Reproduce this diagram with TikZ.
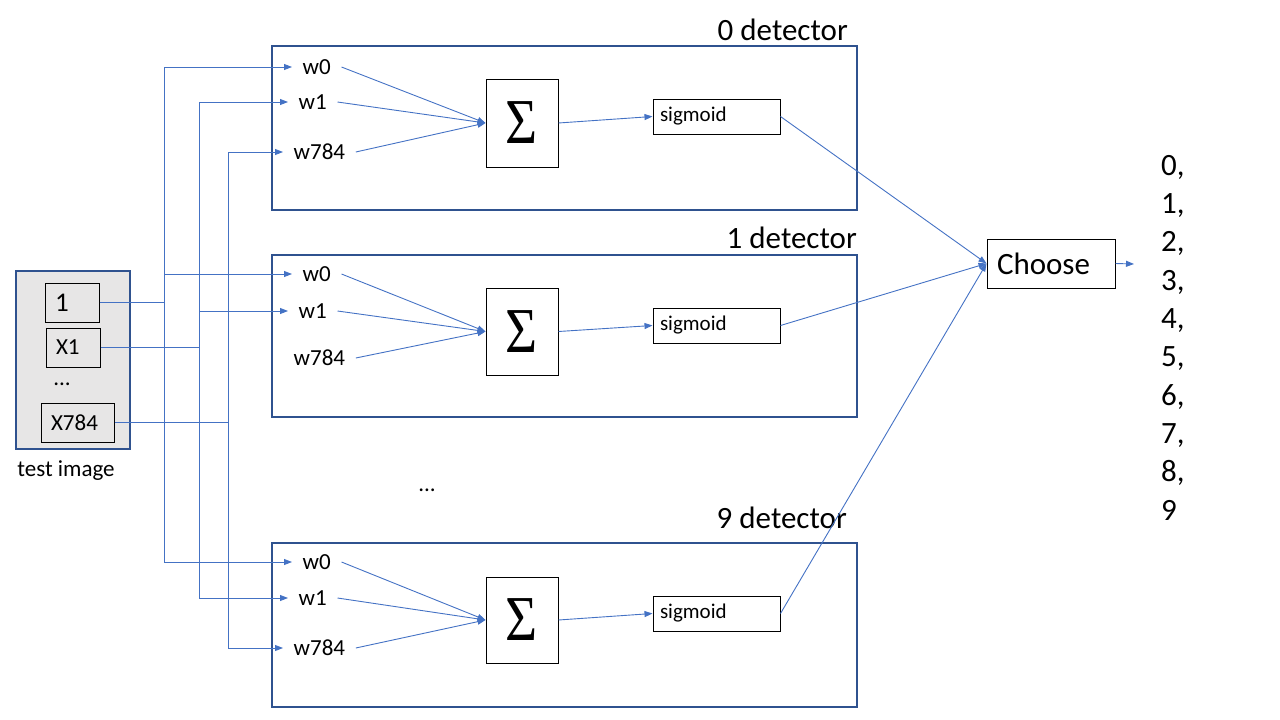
\documentclass[tikz,border=0pt]{standalone}
\usepackage{fontspec}
\setmainfont{Carlito}
\newfontfamily\sigfont{Liberation Serif}
\usetikzlibrary{arrows.meta}
\definecolor{cblue}{HTML}{4472C4}
\definecolor{cframe}{HTML}{2F528F}
\definecolor{cpanel}{HTML}{E7E6E6}
\tikzset{
  wire/.style={draw=cblue, line width=0.9pt},
  arr/.style={wire, -{Triangle[length=8pt,width=6pt]}},
  detbox/.style={draw=cframe, line width=1.2pt, minimum width=585pt, minimum height=164pt, inner sep=0},
  sumbox/.style={draw=black, line width=1pt, minimum width=72pt, minimum height=88pt, inner sep=0},
  sigbox/.style={draw=black, line width=1pt, minimum height=35pt, text width=113pt, inner xsep=7pt, inner ysep=0, align=left, font=\fontsize{21}{25}\selectfont},
  wlab/.style={anchor=west, inner xsep=10.5pt, inner ysep=0, font=\fontsize{23}{28}\selectfont},
  detlab/.style={anchor=base east, inner sep=0, font=\fontsize{31}{37}\selectfont},
  cell/.style={draw=black, line width=1pt, minimum height=39pt, inner xsep=10pt, inner ysep=0, align=left, font=\fontsize{23}{28}\selectfont},
  plain/.style={inner sep=0, font=\fontsize{23}{28}\selectfont},
  sigma/.style={inner sep=0, font=\sigfont\fontsize{64}{70}\selectfont}
}
\newcommand{\mysig}{\scalebox{0.86}[1]{Σ}}
\begin{document}
\begin{tikzpicture}[x=1pt,y=-1pt]
\useasboundingbox (0,0) rectangle (1280,720);

% detector frames
\node[detbox] (d0) at (564.5,128) {};
\node[detbox, minimum height=162pt] (d1) at (564.5,336) {};
\node[detbox] (d9) at (564.5,625) {};
\node[detlab] (l0) at (848,40) {0 detector};
\node[detlab] (l1) at (857,248) {1 detector};
\node[detlab] (l9) at (847,528) {9 detector};

% sums
\node[sumbox] (s0) at (522,123) {};
\node[sigma] (t0) at (s0) {\mysig};
\node[sumbox, minimum height=87pt] (s1) at (522,331.5) {};
\node[sigma] (t1) at (s1) {\mysig};
\node[sumbox, minimum height=86pt] (s9) at (522,620) {};
\node[sigma] (t9) at (s9) {\mysig};

% sigmoids
\node[sigbox] (g0) at (716.5,116.5) {sigmoid};
\node[sigbox] (g1) at (716.5,325.5) {sigmoid};
\node[sigbox] (g9) at (716.5,613.5) {sigmoid};

% weights
\node[wlab] (a0) at (292,67) {w0};
\node[wlab] (b0) at (288,102) {w1};
\node[wlab] (c0) at (283,152) {w784};
\node[wlab] (a1) at (292,274) {w0};
\node[wlab] (b1) at (288,311) {w1};
\node[wlab] (c1) at (283,358) {w784};
\node[wlab] (a9) at (292,562) {w0};
\node[wlab] (b9) at (288,598) {w1};
\node[wlab] (c9) at (283,648) {w784};

% input image
\node[draw=cframe, fill=cpanel, line width=1.2pt, minimum width=114pt, minimum height=178pt, inner sep=0] (img) at (73,360) {};
\node[cell, text width=34pt, font=\fontsize{27}{32}\selectfont] (i1) at (72,302.5) {1};
\node[cell, text width=34pt] (ix1) at (73,347.5) {X1};
\node[cell, text width=53pt] (ix784) at (77.5,422.5) {X784};
\node[plain] (idots) at (62,384) {...};
\node[plain] (timg) at (66,471) {test image};

\node[plain] (mdots) at (427,490) {...};

% choose
\node[draw=black, line width=1pt, minimum height=49pt, text width=108pt, inner xsep=10pt, inner ysep=0, align=left, font=\fontsize{31}{37}\selectfont] (ch) at (1051,263.5) {Choose};
\coordinate (out) at (1134,264);
\node[anchor=north west, inner sep=0, align=left, font=\fontsize{31}{38.3}\selectfont] (digits) at (1161,155) {0,\\1,\\2,\\3,\\4,\\5,\\6,\\7,\\8,\\9};

% buses
\coordinate (x0) at (164,0);
\coordinate (x1) at (199,0);
\coordinate (x2) at (228,0);
\draw[wire] (a0.west -| x0) -- (a9.west -| x0);
\draw[wire] (b0.west -| x1) -- (b9.west -| x1);
\draw[wire] (c0.west -| x2) -- (c9.west -| x2);
\draw[wire] (i1.east) -- (i1.east -| x0);
\draw[wire] (ix1.east) -- (ix1.east -| x1);
\draw[wire] (ix784.east) -- (ix784.east -| x2);

\foreach \n in {a0,a1,a9}{\draw[arr] (\n.west -| x0) -- (\n.west);}
\foreach \n in {b0,b1,b9}{\draw[arr] (\n.west -| x1) -- (\n.west);}
\draw[arr] (c0.west -| x2) -- (c0.west);
\draw[arr] (c9.west -| x2) -- (c9.west);

% weights to sums
\foreach \k in {0,1,9}{
  \draw[arr] (a\k.east) -- (s\k.west);
  \draw[arr] (b\k.east) -- (s\k.west);
  \draw[arr] (c\k.east) -- (s\k.west);
  \draw[arr] (s\k.east) -- (g\k.west);
  \draw[arr] (g\k.east) -- (ch.west);
}
\draw[arr] (ch.east) -- (out);
\end{tikzpicture}
\end{document}
